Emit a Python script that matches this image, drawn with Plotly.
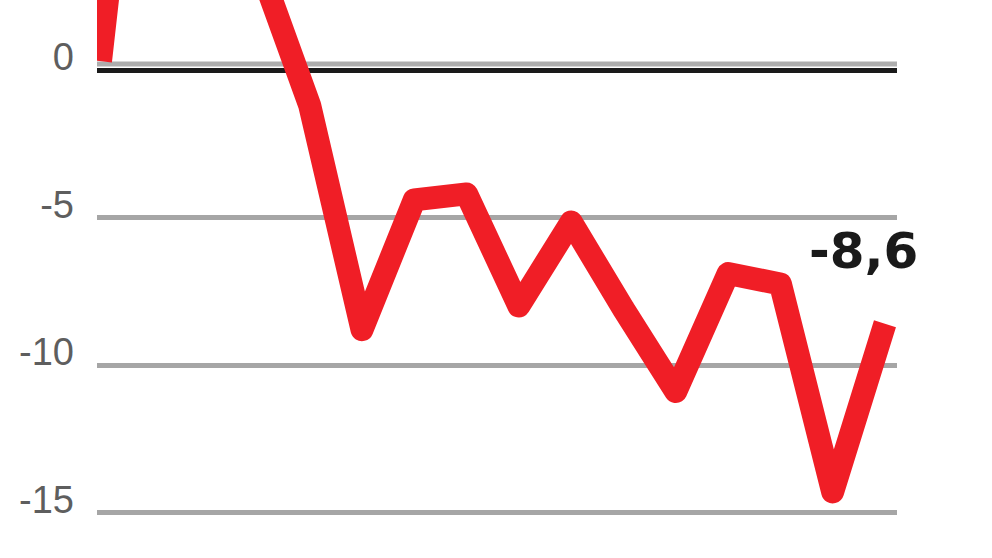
import plotly.graph_objects as go

# Data (period index -> value, %)
periods = [0, 1, 2, 3, 4, 5, 6, 7, 8, 9, 10, 11, 12, 13, 14, 15]
values = [0.3, 16.0, 8.0, 3.7, -1.2, -8.8, -4.4, -4.2, -8.0, -5.15, -8.1, -10.9, -6.9, -7.25, -14.3, -8.6]
y_ticks = [0, -5, -10, -15]
y_tick_text = ["0", "-5", "-10", "-15"]
last_label = "-8,6"

fig = go.Figure()
fig.add_trace(go.Scatter(
    x=periods, y=values, mode="lines",
    line=dict(color="#F01E26", width=23),
    hoverinfo="skip", showlegend=False,
))

fig.add_annotation(
    x=periods[-1] - 0.42, y=values[-1] + 2.45, xref="x", yref="y",
    text=last_label, showarrow=False, xanchor="center", yanchor="middle",
    font=dict(family="DejaVu Sans", size=50, color="#1a1a1a", weight="bold"),
)

# light grey line that sits just above the black zero line
fig.add_shape(
    type="line", xref="paper", x0=0, x1=1, yref="y",
    ysizemode="pixel", yanchor=0, y0=6, y1=6,
    line=dict(color="#ADADAD", width=5), layer="below",
)

fig.update_layout(
    width=992, height=558,
    margin=dict(l=97, r=95, t=0, b=0),
    paper_bgcolor="white", plot_bgcolor="white",
    xaxis=dict(range=[-0.067, 15.23], visible=False, fixedrange=True),
    yaxis=dict(
        range=[-16.54, 2.373],
        tickvals=y_ticks, ticktext=y_tick_text,
        showgrid=True, gridcolor="#A6A6A6", gridwidth=5,
        zeroline=True, zerolinecolor="#1a1a1a", zerolinewidth=5,
        showline=False, ticks="",
        ticklabelstandoff=22, ticklabelshift=-13,
        tickfont=dict(family="Liberation Sans, Arial", size=38, color="#5e5e5e"),
        fixedrange=True,
    ),
)

post = (
    "document.body.style.margin='0';"
    "document.querySelectorAll('.scatterlayer path.js-line').forEach("
    "function(p){p.style.strokeLinejoin='round';});"
)
fig.write_html("out.html", config={"displayModeBar": False}, post_script=post)
